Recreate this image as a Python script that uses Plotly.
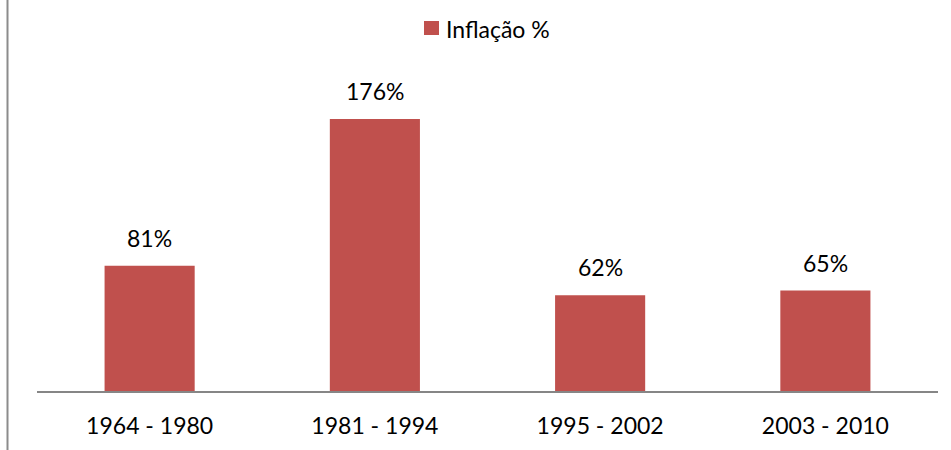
import plotly.graph_objects as go

periods = ["1964 - 1980", "1981 - 1994", "1995 - 2002", "2003 - 2010"]
inflation = [81, 176, 62, 65]
series_name = "Inflação %"
bar_color = "#C0504D"
font_family = "Lato, 'Open Sans', sans-serif"

W, H = 951, 450
ML, MR, MT, MB = 37, 13, 82, 59
plot_w = W - ML - MR
plot_h = H - MT - MB


def px_x(px):
    return (px - ML) / plot_w


def px_y(py):
    return (H - MB - py) / plot_h


fig = go.Figure()
fig.add_trace(go.Bar(
    x=periods,
    y=inflation,
    name=series_name,
    marker=dict(color=bar_color, line=dict(width=0)),
    showlegend=False,
))

# value labels above each bar
for p, v in zip(periods, inflation):
    fig.add_annotation(
        x=p, y=v, text=f"{v}%", showarrow=False,
        yanchor="bottom", yshift=12,
        font=dict(size=23, color="#000000", family=font_family),
    )

# legend: colour swatch and series name
fig.add_shape(
    type="rect", xref="paper", yref="paper",
    x0=px_x(424), x1=px_x(439), y0=px_y(35), y1=px_y(21),
    fillcolor=bar_color, line=dict(width=0),
)
fig.add_annotation(
    xref="paper", yref="paper", x=px_x(444), y=px_y(29),
    xanchor="left", yanchor="middle", showarrow=False,
    text=series_name,
    font=dict(size=23, color="#000000", family=font_family),
)

# left border line of the chart area
fig.add_shape(
    type="line", xref="paper", yref="paper",
    x0=px_x(7.5), x1=px_x(7.5), y0=px_y(460), y1=px_y(-10),
    line=dict(color="#8C8C8C", width=2),
)

fig.update_layout(
    width=W, height=H,
    margin=dict(l=ML, r=MR, t=MT, b=MB, autoexpand=False),
    paper_bgcolor="white", plot_bgcolor="white",
    bargap=0.6,
    showlegend=False,
    font=dict(family=font_family, size=23, color="#000000"),
    xaxis=dict(
        showline=True, linecolor="#868686", linewidth=2,
        ticks="", showgrid=False, tickfont=dict(size=23),
        ticklabelstandoff=13,
    ),
    yaxis=dict(
        range=[0, 200], visible=False, showgrid=False, zeroline=False,
    ),
)

fig.write_html("out.html")
